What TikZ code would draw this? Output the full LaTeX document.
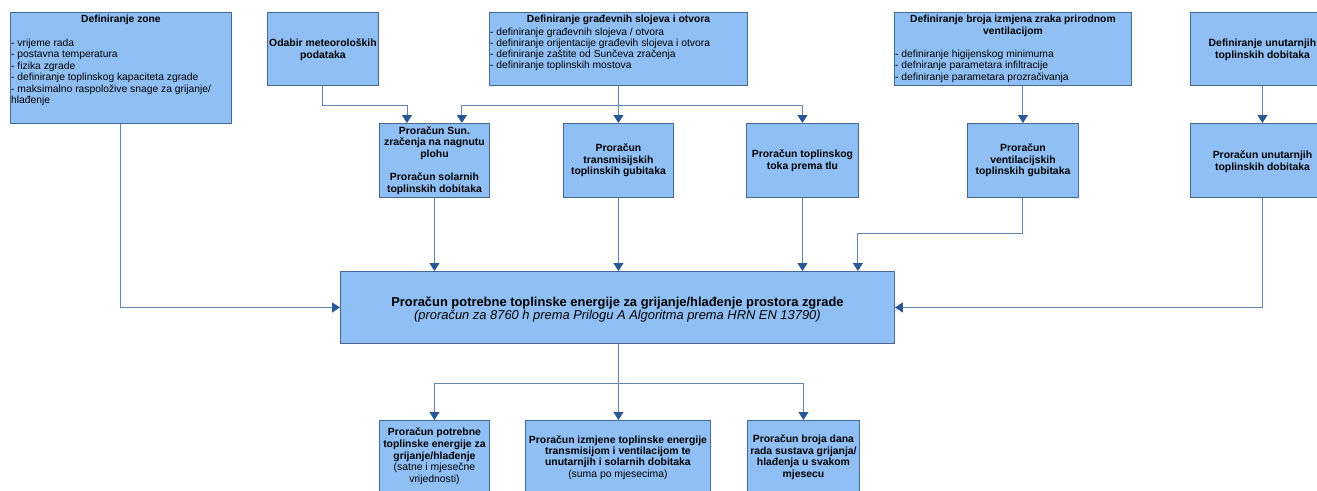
\documentclass[tikz,border=0pt]{standalone}
\usepackage{fontspec}
\setmainfont{Liberation Sans}
\usetikzlibrary{arrows.meta}
\definecolor{boxfill}{RGB}{143,191,244}
\definecolor{boxdraw}{RGB}{72,104,148}
\definecolor{linec}{RGB}{98,132,178}
\definecolor{tipc}{RGB}{42,88,148}
\tikzset{
  box/.style={draw=boxdraw, fill=boxfill, line width=0.9pt, inner sep=0pt, anchor=north west},
  lst/.style={inner sep=0pt, anchor=north west, align=left, font=\fontsize{10.3}{11.5}\selectfont, text=black},
  ttl/.style={inner sep=0pt, anchor=north, align=center, font=\fontsize{10.3}{12.3}\selectfont\bfseries, text=black},
  ctr/.style={inner sep=0pt, align=center, font=\fontsize{10.4}{11.6}\selectfont\bfseries, text=black},
  conn/.style={draw=linec, line width=1pt, -{Triangle[width=10pt,length=8pt,color=tipc]}},
}
\begin{document}
\begin{tikzpicture}[x=1pt,y=-1pt]
\useasboundingbox (0,0) rectangle (1317,490);
\clip (0,0) rectangle (1317,490);
% top row
\node[box, minimum width=221pt, minimum height=111pt] (zone) at (10,12) {};
\node[box, minimum width=111pt, minimum height=73pt] (odabir) at (267,12) {};
\node[box, minimum width=258pt, minimum height=73pt] (grad) at (489,12) {};
\node[box, minimum width=237pt, minimum height=73pt] (broja) at (894,12) {};
\node[box, minimum width=144pt, minimum height=73pt] (unutA) at (1190,12) {};
% middle row
\node[box, minimum width=110pt, minimum height=74pt] (sun) at (379,123) {};
\node[box, minimum width=110pt, minimum height=74pt] (trans) at (563,123) {};
\node[box, minimum width=112pt, minimum height=74pt] (tok) at (746,123) {};
\node[box, minimum width=111pt, minimum height=74pt] (ventil) at (967,123) {};
\node[box, minimum width=144pt, minimum height=74pt] (unutB) at (1190,123) {};
% main
\node[box, minimum width=554pt, minimum height=72pt] (main) at (340,271) {};
% bottom row
\node[box, minimum width=110pt, minimum height=90pt] (botA) at (379,420) {};
\node[box, minimum width=185pt, minimum height=90pt] (botB) at (525,420) {};
\node[box, minimum width=112pt, minimum height=90pt] (botC) at (747,420) {};

% texts, top row
\node[ttl] (zoneT) at ([yshift=-2.5pt]zone.north) {Definiranje zone};
\node[lst] (zoneL) at ([xshift=1pt,yshift=-26.5pt]zone.north west)
  {- vrijeme rada\\ - postavna temperatura\\ - fizika zgrade\\
   - definiranje toplinskog kapaciteta zgrade\\
   - maksimalno raspoložive snage za grijanje/\\ hlađenje};
\node[ctr, font=\fontsize{10.4}{12}\selectfont\bfseries] (odabirT) at ([yshift=-0.5pt]odabir.center)
  {Odabir meteoroloških\\ podataka};
\node[ttl] (gradT) at ([yshift=-2.5pt]grad.north) {Definiranje građevnih slojeva i otvora};
\node[lst, font=\fontsize{10.3}{10.8}\selectfont] (gradL) at ([xshift=1pt,yshift=-16pt]grad.north west)
  {- definiranje građevnih slojeva / otvora\\
   - definiranje orijentacije građevih slojeva i otvora\\
   - definiranje zaštite od Sunčeva zračenja\\
   - definiranje toplinskih mostova};
\node[ttl] (brojaT) at ([yshift=-2.5pt]broja.north)
  {Definiranje broja izmjena zraka prirodnom\\ ventilacijom};
\node[lst] (brojaL) at ([xshift=1pt,yshift=-37.5pt]broja.north west)
  {- definiranje higijenskog minimuma\\
   - defniranje parametara infiltracije\\
   - definiranje parametara prozračivanja};
\node[ctr, font=\fontsize{10.4}{12}\selectfont\bfseries] (unutAT) at ([yshift=-1pt]unutA.center)
  {Definiranje unutarnjih\\ toplinskih dobitaka};

% texts, middle row
\node[ctr] (sunT) at (sun.center)
  {Proračun Sun.\\ zračenja na nagnutu\\ plohu\\[11.4pt] Proračun solarnih\\ toplinskih dobitaka};
\node[ctr] (transT) at (trans.center)
  {Proračun\\ transmisijskih\\ toplinskih gubitaka};
\node[ctr] (tokT) at (tok.center)
  {Proračun toplinskog\\ toka prema tlu};
\node[ctr] (ventilT) at (ventil.center)
  {Proračun\\ ventilacijskih\\ toplinskih gubitaka};
\node[ctr] (unutBT) at ([yshift=-1pt]unutB.center)
  {Proračun unutarnjih\\ toplinskih dobitaka};

% main text
\node[ctr, font=\fontsize{12.9}{13.2}\selectfont] (mainT) at ([yshift=-2pt]main.center)
  {\textbf{Proračun potrebne toplinske energije za grijanje/hlađenje prostora zgrade}\\
   \textit{(proračun za 8760 h prema Prilogu A Algoritma prema HRN EN 13790)}};

% bottom row texts
\node[ttl, font=\fontsize{10.4}{11.8}\selectfont] (botAT) at ([yshift=-7.5pt]botA.north)
  {\textbf{Proračun potrebne}\\ \textbf{toplinske energije za}\\ \textbf{grijanje/hlađenje}\\
   (satne i mjesečne\\ vrijednosti)};
\node[ttl, font=\fontsize{10.4}{11.2}\selectfont] (botBT) at ([yshift=-15.5pt]botB.north)
  {\textbf{Proračun izmjene toplinske energije}\\ \textbf{transmisijom i ventilacijom te}\\
   \textbf{unutarnjih i solarnih dobitaka}\\ (suma po mjesecima)};
\node[ttl, font=\fontsize{10.4}{11.4}\selectfont\bfseries] (botCT) at ([yshift=-15pt]botC.north)
  {Proračun broja dana\\ rada sustava grijanja/\\ hlađenja u svakom\\ mjesecu};

% helper coordinates
\coordinate (sunA) at ([xshift=28pt]sun.north west);
\coordinate (sunB) at ([xshift=-28pt]sun.north east);
\coordinate (lvl1) at ([yshift=18pt]sun.north);
\coordinate (mainR) at ([xshift=-37pt]main.north east);
\coordinate (lvl2) at ([yshift=38pt]main.north);
\coordinate (lvl3) at ([yshift=37pt]botB.north);

% connectors
\draw[conn] (zone.south) |- (main.west);
\draw[conn] (odabir.south) |- (sunA |- lvl1) -- (sunA);
\draw[conn] (trans.north |- grad.south) -- (trans.north);
\draw[conn] (trans.north |- lvl1) -| (sunB);
\draw[conn] (trans.north |- lvl1) -| (tok.north);
\draw[conn] (ventil.north |- broja.south) -- (ventil.north);
\draw[conn] (unutA.south) -- (unutB.north);
\draw[conn] (sun.south) -- (sun.south |- main.north);
\draw[conn] (trans.south) -- (trans.south |- main.north);
\draw[conn] (tok.south) -- (tok.south |- main.north);
\draw[conn] (ventil.south) |- (mainR |- lvl2) -- (mainR);
\draw[conn] (unutB.south) |- (main.east);
\draw[conn] (trans.south |- main.south) -- (trans.south |- botB.north);
\draw[conn] (trans.south |- lvl3) -| (botA.north);
\draw[conn] (trans.south |- lvl3) -| (botC.north);
\end{tikzpicture}
\end{document}
